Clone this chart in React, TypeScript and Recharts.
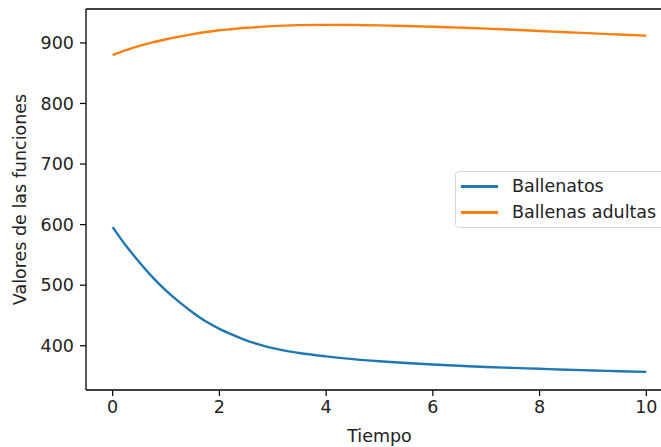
import { FC } from "react";
import {
  Label,
  Legend,
  Line,
  LineChart,
  ReferenceLine,
  XAxis,
  YAxis,
} from "recharts";

const tiempo = [
  0, 0.25, 0.5, 0.75, 1, 1.25, 1.5, 1.75, 2, 2.25, 2.5, 2.75, 3, 3.5, 4, 4.5, 5, 5.5, 6, 6.5, 7, 7.5, 8, 8.5, 9,
  9.5, 10,
];
const ballenatos = [
  596, 565, 538, 513, 491, 472, 455, 440, 428, 418, 409, 402, 396, 388, 382.5, 378, 374.5, 371.5, 369, 367, 365,
  363.5, 362, 360.5, 359.3, 358, 357,
];
const ballenasAdultas = [
  880, 888, 895, 901, 906, 910.5, 914.5, 918, 921, 923, 925, 926.5, 927.8, 929.3, 929.8, 929.6, 929, 928, 926.7,
  925.2, 923.6, 921.7, 919.7, 917.7, 915.7, 913.8, 912,
];

const xTicks = [0, 2, 4, 6, 8, 10];
const yTicks = [400, 500, 600, 700, 800, 900];

const seriesNames = ["Ballenatos", "Ballenas adultas"];
const colors = ["#1f77b4", "#ff7f0e"];

const data = tiempo.map((t, i) => ({
  t,
  ballenatos: ballenatos[i],
  adultas: ballenasAdultas[i],
}));

const FONT = "DejaVu Sans, sans-serif";
const FS = 17.5;
const tickStyle = { fontFamily: FONT, fontSize: FS, fill: "#222" };

const LegendBox: FC = () => (
  <div
    style={{
      display: "inline-block",
      border: "1px solid #d6d6d6",
      borderRadius: 4,
      background: "rgba(255,255,255,0.8)",
      padding: "2px 18px 2px 5px",
      fontFamily: FONT,
      fontSize: FS,
      color: "#222",
      lineHeight: "25.7px",
    }}
  >
    {seriesNames.map((name, i) => (
      <div key={name} style={{ display: "flex", alignItems: "center", whiteSpace: "nowrap" }}>
        <span
          style={{
            display: "inline-block",
            width: 37,
            height: 3,
            background: colors[i],
            marginRight: 14,
          }}
        />
        {name}
      </div>
    ))}
  </div>
);

export default function App() {
  return (
    <div
      style={{
        position: "fixed",
        left: 0,
        top: 0,
        width: 661,
        height: 447,
        overflow: "hidden",
        background: "#fff",
      }}
    >
      <LineChart
        width={700}
        height={447}
        data={data}
        margin={{ top: 9, right: 27, bottom: 0, left: 0 }}
      >
        <XAxis
          dataKey="t"
          type="number"
          domain={[-0.5, 10.5]}
          ticks={xTicks}
          allowDataOverflow
          height={57}
          tick={tickStyle}
          tickSize={6}
          tickMargin={5}
          axisLine={{ stroke: "#000", strokeWidth: 1.3 }}
          tickLine={{ stroke: "#000", strokeWidth: 1.2 }}
        >
          <Label
            value="Tiempo"
            position="insideBottom"
            offset={5}
            style={{ fontFamily: FONT, fontSize: FS, fill: "#222" }}
          />
        </XAxis>
        <YAxis
          type="number"
          domain={[327, 956]}
          ticks={yTicks}
          allowDataOverflow
          width={86}
          tick={tickStyle}
          tickSize={6}
          tickMargin={6}
          axisLine={{ stroke: "#000", strokeWidth: 1.3 }}
          tickLine={{ stroke: "#000", strokeWidth: 1.2 }}
        >
          <Label
            value="Valores de las funciones"
            angle={-90}
            position="insideLeft"
            offset={20}
            style={{ fontFamily: FONT, fontSize: FS, fill: "#222", textAnchor: "middle" }}
          />
        </YAxis>
        {/* top and right spines */}
        <ReferenceLine y={956} stroke="#000" strokeWidth={1.3} ifOverflow="visible" />
        <ReferenceLine x={10.5} stroke="#000" strokeWidth={1.3} ifOverflow="visible" />
        <Legend
          layout="horizontal"
          verticalAlign="middle"
          align="center"
          content={() => <LegendBox />}
          wrapperStyle={{ top: 171, left: 455, width: "auto" }}
        />
        <Line
          type="monotone"
          dataKey="ballenatos"
          name={seriesNames[0]}
          stroke={colors[0]}
          strokeWidth={2.4}
          dot={false}
          isAnimationActive={false}
        />
        <Line
          type="monotone"
          dataKey="adultas"
          name={seriesNames[1]}
          stroke={colors[1]}
          strokeWidth={2.4}
          dot={false}
          isAnimationActive={false}
        />
      </LineChart>
    </div>
  );
}
